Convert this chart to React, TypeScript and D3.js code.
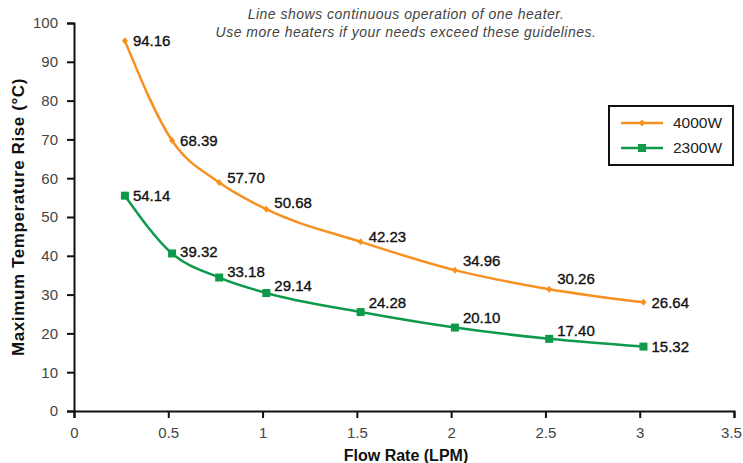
import * as d3 from "d3";
import { useEffect, useRef } from "react";

// flow rate (LPM) at which each reading was plotted
const flowRates = [0.27, 0.52, 0.77, 1.02, 1.52, 2.02, 2.52, 3.02];

// plotted curve values
const rise4000 = [95.4, 69.7, 58.9, 52.0, 43.6, 36.3, 31.4, 28.0];
const rise2300 = [55.5, 40.6, 34.4, 30.4, 25.5, 21.5, 18.6, 16.6];

// printed point labels
const labels4000 = ["94.16", "68.39", "57.70", "50.68", "42.23", "34.96", "30.26", "26.64"];
const labels2300 = ["54.14", "39.32", "33.18", "29.14", "24.28", "20.10", "17.40", "15.32"];

// vertical nudge of each label relative to its point (px)
const labelDy4000 = [0, 0, -5, -6, -5, -9, -10, 0];
const labelDy2300 = [0, -2, -6, -7, -9, -10, -8, 0];

const xTicks = [0, 0.5, 1, 1.5, 2, 2.5, 3, 3.5];
const yTicks = [0, 10, 20, 30, 40, 50, 60, 70, 80, 90, 100];

const series = [
  { name: "4000W", values: rise4000, labels: labels4000, dy: labelDy4000, color: "#f7901e", marker: "diamond" },
  { name: "2300W", values: rise2300, labels: labels2300, dy: labelDy2300, color: "#0e9a4a", marker: "square" },
];

const notes = [
  "Line shows continuous operation of one heater.",
  "Use more heaters if your needs exceed these guidelines.",
];

const font = "'Liberation Sans', Arial, sans-serif";

export default function App() {
  const svgRef = useRef<SVGSVGElement>(null);
  const width = 743;
  const height = 463;

  useEffect(() => {
    if (!svgRef.current) return;
    const svg = d3.select(svgRef.current);
    svg.selectAll("*").remove();

    const margin = { top: 23, right: 9, bottom: 52, left: 74 };
    const innerWidth = width - margin.left - margin.right;
    const innerHeight = height - margin.top - margin.bottom;

    const g = svg.append("g").attr("transform", `translate(${margin.left},${margin.top})`);

    const xScale = d3.scaleLinear().domain([0, 3.5]).range([0, innerWidth]);
    const yScale = d3.scaleLinear().domain([0, 100]).range([innerHeight, 0]);

    // Axes
    const xAxis = d3
      .axisBottom(xScale)
      .tickValues(xTicks)
      .tickFormat((d) => String(d))
      .tickSize(7)
      .tickPadding(9);
    const yAxis = d3
      .axisLeft(yScale)
      .tickValues(yTicks)
      .tickFormat((d) => String(d))
      .tickSize(7)
      .tickPadding(9);

    const xAxisGroup = g.append("g").attr("transform", `translate(0,${innerHeight})`).call(xAxis);
    const yAxisGroup = g.append("g").call(yAxis);

    [xAxisGroup, yAxisGroup].forEach((ax) => {
      ax.select(".domain").attr("stroke", "#111").attr("stroke-width", 2);
      ax.selectAll(".tick line").attr("stroke", "#111").attr("stroke-width", 2);
      ax.selectAll("text").style("font-family", font).style("font-size", "15px").style("fill", "#444");
    });
    // last x label sits at the page edge; nudge it in so it is not clipped
    xAxisGroup
      .selectAll<SVGTextElement, number>(".tick text")
      .filter((d) => d === 3.5)
      .attr("dx", -3);

    const line = d3
      .line<number>()
      .x((_, i) => xScale(flowRates[i]))
      .y((d) => yScale(d))
      .curve(d3.curveMonotoneX);

    series.forEach((s) => {
      g.append("path")
        .datum(s.values)
        .attr("d", line)
        .attr("fill", "none")
        .attr("stroke", s.color)
        .attr("stroke-width", 2.5);

      const pts = g
        .selectAll(`.pt-${s.name}`)
        .data(s.values)
        .enter()
        .append("g")
        .attr("transform", (d, i) => `translate(${xScale(flowRates[i])},${yScale(d)})`);

      if (s.marker === "square") {
        pts.append("rect").attr("x", -4).attr("y", -4).attr("width", 8).attr("height", 8).attr("fill", s.color);
      } else {
        pts.append("path").attr("d", "M0,-3.5L3,0L0,3.5L-3,0Z").attr("fill", s.color);
      }

      g.selectAll(`.lbl-${s.name}`)
        .data(s.values)
        .enter()
        .append("text")
        .attr("x", (_, i) => xScale(flowRates[i]) + 8)
        .attr("y", (d, i) => yScale(d) + s.dy[i])
        .attr("dy", "0.35em")
        .style("font-family", font)
        .style("font-size", "15px")
        .style("fill", "#111")
        .style("stroke", "#111")
        .style("stroke-width", 0.35)
        .text((_, i) => s.labels[i]);
    });

    // Legend
    const legend = svg.append("g").attr("transform", "translate(609,106)");
    legend
      .append("rect")
      .attr("width", 124)
      .attr("height", 59)
      .attr("fill", "white")
      .attr("stroke", "#111")
      .attr("stroke-width", 2);
    series.forEach((s, i) => {
      const row = legend.append("g").attr("transform", `translate(0,${17 + i * 25})`);
      row.append("line").attr("x1", 12).attr("x2", 54).attr("stroke", s.color).attr("stroke-width", 2.5);
      if (s.marker === "square") {
        row.append("rect").attr("x", 29).attr("y", -4).attr("width", 8).attr("height", 8).attr("fill", s.color);
      } else {
        row.append("path").attr("d", "M33,-3.5L36,0L33,3.5L30,0Z").attr("fill", s.color);
      }
      row
        .append("text")
        .attr("x", 64)
        .attr("dy", "0.35em")
        .style("font-family", font)
        .style("font-size", "15.5px")
        .style("fill", "#222")
        .text(s.name);
    });

    // Note at the top
    svg
      .selectAll(".note")
      .data(notes)
      .enter()
      .append("text")
      .attr("x", 406)
      .attr("y", (_, i) => 19 + i * 18)
      .attr("text-anchor", "middle")
      .style("font-family", font)
      .style("font-style", "italic")
      .style("font-size", "14px")
      .style("letter-spacing", "0.5px")
      .style("fill", "#444")
      .text((d) => d);

    // Axis titles
    svg
      .append("text")
      .attr("transform", "rotate(-90)")
      .attr("x", -217)
      .attr("y", 24)
      .attr("text-anchor", "middle")
      .style("font-family", font)
      .style("font-size", "17px")
      .style("font-weight", "bold")
      .style("letter-spacing", "0.6px")
      .style("fill", "#111")
      .text("Maximum Temperature Rise (°C)");

    svg
      .append("text")
      .attr("x", 406)
      .attr("y", 461)
      .attr("text-anchor", "middle")
      .style("font-family", font)
      .style("font-size", "16px")
      .style("font-weight", "bold")
      .style("fill", "#111")
      .text("Flow Rate (LPM)");
  }, []);

  return (
    <svg
      ref={svgRef}
      width={width}
      height={height}
      style={{ position: "absolute", left: 0, top: 0, background: "white" }}
    />
  );
}
